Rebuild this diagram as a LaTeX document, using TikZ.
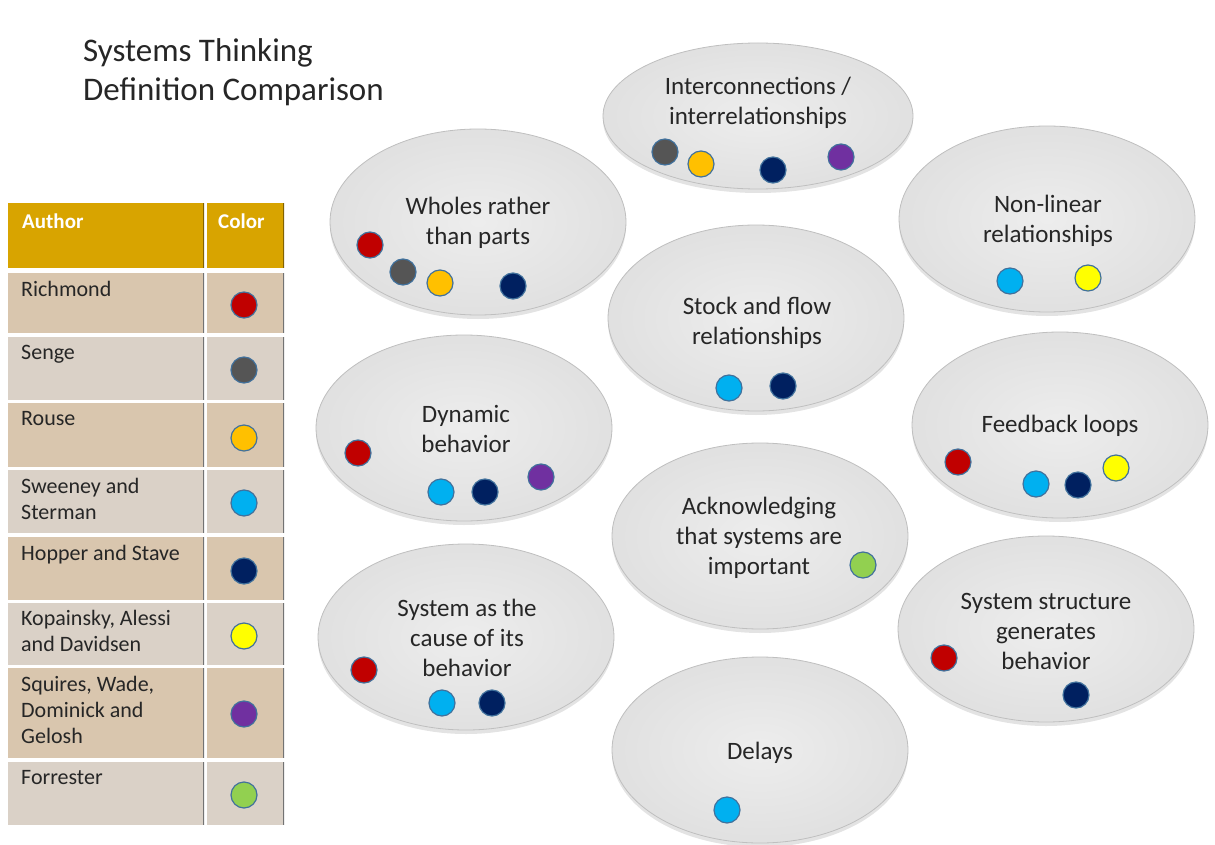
\documentclass[tikz,border=0pt]{standalone}
\usepackage{fontspec}
\setmainfont{Carlito}
\usetikzlibrary{shapes, shadows}

\definecolor{richmond}{HTML}{C00000}
\definecolor{senge}{HTML}{555555}
\definecolor{rouse}{HTML}{FFC000}
\definecolor{sweeney}{HTML}{00B0F0}
\definecolor{hopper}{HTML}{002060}
\definecolor{kopainsky}{HTML}{FFFF00}
\definecolor{squires}{HTML}{7030A0}
\definecolor{forrester}{HTML}{92D050}
\definecolor{dotrim}{HTML}{41719C}
\definecolor{gold}{HTML}{D8A400}
\definecolor{tanA}{HTML}{D9C6AE}
\definecolor{tanB}{HTML}{DAD1C7}
\definecolor{inktext}{HTML}{262626}

\tikzstyle{bubble} = [ellipse, draw=gray!50, line width=0.8pt, inner sep=0pt,
    minimum width=296pt, minimum height=186pt, inner color=gray!14, outer color=gray!24,
    drop shadow={shadow xshift=0pt, shadow yshift=-4pt, opacity=0.22}]
\tikzstyle{bubtext} = [align=center, text=inktext, font=\fontsize{25}{30}\selectfont]
\tikzstyle{dot} = [circle, draw=dotrim, line width=1.2pt, minimum size=26pt, inner sep=0pt]
\tikzstyle{titletext} = [anchor=west, align=left, inner sep=0pt, text=inktext,
    font=\fontsize{33}{39}\selectfont]
\tikzstyle{celltext} = [anchor=north west, align=left, inner sep=0pt, text=inktext,
    font=\fontsize{22}{26}\selectfont]
\tikzstyle{headtext} = [anchor=north west, inner sep=0pt, text=white,
    font=\fontsize{21}{25}\selectfont\bfseries]
\tikzstyle{headcell} = [fill=gold, path picture={\draw[line width=2.5pt, gold!60!black]
    (path picture bounding box.north east) -- (path picture bounding box.south east);}]
\tikzstyle{cellA} = [fill=tanA, path picture={\draw[line width=2.5pt, black!55]
    (path picture bounding box.north east) -- (path picture bounding box.south east);}]
\tikzstyle{cellB} = [fill=tanB, path picture={\draw[line width=2.5pt, black!55]
    (path picture bounding box.north east) -- (path picture bounding box.south east);}]

\begin{document}
\begin{tikzpicture}[x=1pt, y=-1pt]
    \useasboundingbox (0,0) rectangle (1215,845);

    % Title
    \node [titletext] (title) at (83,72) {Systems Thinking\\Definition Comparison};

    % The legend table
    \path [headcell] (8,203) rectangle (204,268);
    \path [headcell] (207,203) rectangle (284,268);
    \node [headtext] (hauthor) at (22,214) {Author};
    \node [headtext] (hcolor) at (218,214) {Color};

    \path [cellA] (8,273) rectangle (204,333);
    \path [cellA] (207,273) rectangle (284,333);
    \node [celltext] (trichmond) at (21,281) {Richmond};
    \node [dot, fill=richmond] (lrichmond) at (244,305) {};

    \path [cellB] (8,337) rectangle (204,400);
    \path [cellB] (207,337) rectangle (284,400);
    \node [celltext] (tsenge) at (21,345) {Senge};
    \node [dot, fill=senge] (lsenge) at (244,370) {};

    \path [cellA] (8,403) rectangle (204,467);
    \path [cellA] (207,403) rectangle (284,467);
    \node [celltext] (trouse) at (21,411) {Rouse};
    \node [dot, fill=rouse] (lrouse) at (244,438) {};

    \path [cellB] (8,470) rectangle (204,533);
    \path [cellB] (207,470) rectangle (284,533);
    \node [celltext] (tsweeney) at (21,478) {Sweeney and\\Sterman};
    \node [dot, fill=sweeney] (lsweeney) at (244,503) {};

    \path [cellA] (8,537) rectangle (204,600);
    \path [cellA] (207,537) rectangle (284,600);
    \node [celltext] (thopper) at (21,545) {Hopper and Stave};
    \node [dot, fill=hopper] (lhopper) at (244,571) {};

    \path [cellB] (8,603) rectangle (204,665);
    \path [cellB] (207,603) rectangle (284,665);
    \node [celltext] (tkopainsky) at (21,610) {Kopainsky, Alessi\\and Davidsen};
    \node [dot, fill=kopainsky] (lkopainsky) at (244,636) {};

    \path [cellA] (8,668) rectangle (204,758);
    \path [cellA] (207,668) rectangle (284,758);
    \node [celltext] (tsquires) at (21,676) {Squires, Wade,\\Dominick and\\Gelosh};
    \node [dot, fill=squires] (lsquires) at (244,714) {};

    \path [cellB] (8,762) rectangle (204,825);
    \path [cellB] (207,762) rectangle (284,825);
    \node [celltext] (tforrester) at (21,770) {Forrester};
    \node [dot, fill=forrester] (lforrester) at (244,795) {};

    % The bubbles
    \node [bubble, minimum width=310pt, minimum height=146pt] (inter) at (758,116) {};
    \node [bubble] (whole) at (478,222) {};
    \node [bubble] (nonlin) at (1047,219) {};
    \node [bubble] (stock) at (756,318) {};
    \node [bubble] (dynamic) at (464,428) {};
    \node [bubble] (feedback) at (1060,425) {};
    \node [bubble] (ack) at (760,536) {};
    \node [bubble] (cause) at (466,637) {};
    \node [bubble] (struct) at (1046,629) {};
    \node [bubble] (delays) at (760,750) {};

    \node [bubtext] (intertext) at (758,103) {Interconnections /\\interrelationships};
    \node [bubtext] (wholetext) at (478,223) {Wholes rather\\than parts};
    \node [bubtext] (nonlintext) at (1048,221) {Non-linear\\relationships};
    \node [bubtext] (stocktext) at (757,323) {Stock and flow\\relationships};
    \node [bubtext] (dynamictext) at (466,429) {Dynamic\\behavior};
    \node [bubtext] (feedbacktext) at (1060,426) {Feedback loops};
    \node [bubtext] (acktext) at (759,538) {Acknowledging\\that systems are\\important};
    \node [bubtext] (causetext) at (467,638) {System as the\\cause of its\\behavior};
    \node [bubtext] (structtext) at (1046,631) {System structure\\generates\\behavior};
    \node [bubtext] (delaystext) at (760,753) {Delays};

    % Author dots in each bubble
    \node [dot, fill=senge] (inter-s) at (665,152) {};
    \node [dot, fill=rouse] (inter-r) at (701,164) {};
    \node [dot, fill=hopper] (inter-h) at (773,170) {};
    \node [dot, fill=squires] (inter-q) at (841,157) {};

    \node [dot, fill=richmond] (whole-m) at (370,245) {};
    \node [dot, fill=senge] (whole-s) at (403,272) {};
    \node [dot, fill=rouse] (whole-r) at (440,283) {};
    \node [dot, fill=hopper] (whole-h) at (513,286) {};

    \node [dot, fill=sweeney] (nonlin-w) at (1010,281) {};
    \node [dot, fill=kopainsky] (nonlin-k) at (1088,278) {};

    \node [dot, fill=sweeney] (stock-w) at (729,388) {};
    \node [dot, fill=hopper] (stock-h) at (783,386) {};

    \node [dot, fill=richmond] (dynamic-m) at (358,453) {};
    \node [dot, fill=sweeney] (dynamic-w) at (441,492) {};
    \node [dot, fill=hopper] (dynamic-h) at (485,492) {};
    \node [dot, fill=squires] (dynamic-q) at (541,477) {};

    \node [dot, fill=richmond] (feedback-m) at (958,462) {};
    \node [dot, fill=sweeney] (feedback-w) at (1036,484) {};
    \node [dot, fill=hopper] (feedback-h) at (1078,485) {};
    \node [dot, fill=kopainsky] (feedback-k) at (1116,468) {};

    \node [dot, fill=forrester] (ack-f) at (863,565) {};

    \node [dot, fill=richmond] (cause-m) at (364,670) {};
    \node [dot, fill=sweeney] (cause-w) at (442,703) {};
    \node [dot, fill=hopper] (cause-h) at (492,703) {};

    \node [dot, fill=richmond] (struct-m) at (944,658) {};
    \node [dot, fill=hopper] (struct-h) at (1076,695) {};

    \node [dot, fill=sweeney] (delays-w) at (727,810) {};
\end{tikzpicture}
\end{document}
